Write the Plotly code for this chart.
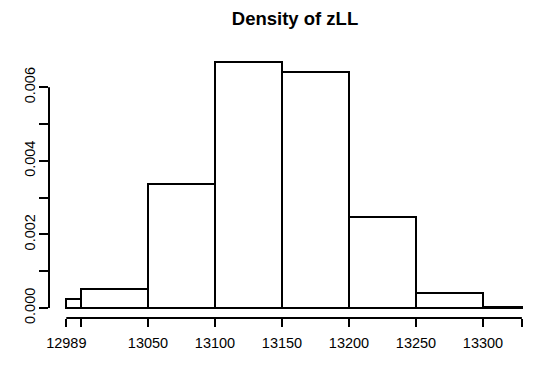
import plotly.graph_objects as go

# Histogram of zLL on the density scale
breaks = [12989, 13000, 13050, 13100, 13150, 13200, 13250, 13300, 13329]
density = [0.00025, 0.00052, 0.00336, 0.00669, 0.00641, 0.00247, 0.00041, 0.00003]

x_tick_labels = ["12989", "", "13050", "13100", "13150", "13200", "13250", "13300", ""]
y_ticks = [0.000, 0.001, 0.002, 0.003, 0.004, 0.005, 0.006]
y_tick_labels = ["0.000", "", "0.002", "", "0.004", "", "0.006"]

lefts = breaks[:-1]
widths = [b - a for a, b in zip(breaks[:-1], breaks[1:])]

x_range = [12976.1, 13338.8]
y_range = [-0.000272, 0.00696]

def px(v):
    return (v - x_range[0]) / (x_range[1] - x_range[0])

def py(v):
    return (v - y_range[0]) / (y_range[1] - y_range[0])

font_family = "Liberation Sans, Arial, Helvetica, sans-serif"

fig = go.Figure(
    go.Bar(
        x=lefts,
        y=density,
        width=widths,
        offset=0,
        marker=dict(color="white", line=dict(color="black", width=2)),
        hoverinfo="skip",
    )
)

# Axis lines that span only the tick range
shapes = [
    dict(type="line", xref="paper", yref="paper",
         x0=px(breaks[0]), x1=px(breaks[-1]), y0=0, y1=0,
         line=dict(color="black", width=2)),
    dict(type="line", xref="paper", yref="paper",
         x0=0, x1=0, y0=py(y_ticks[0]), y1=py(y_ticks[-1]),
         line=dict(color="black", width=2)),
]

fig.update_layout(
    width=535,
    height=391,
    margin=dict(l=49, r=0, t=52, b=73),
    paper_bgcolor="white",
    plot_bgcolor="white",
    showlegend=False,
    bargap=0,
    shapes=shapes,
    font=dict(family=font_family, color="black", size=14),
    title=dict(
        text="<b>Density of zLL</b>",
        x=295 / 535,
        xref="container",
        xanchor="center",
        y=1 - 18.5 / 391,
        yref="container",
        yanchor="middle",
        font=dict(family=font_family, size=18.5, color="black"),
    ),
    xaxis=dict(
        range=x_range,
        tickmode="array",
        tickvals=breaks,
        ticktext=x_tick_labels,
        ticks="outside",
        ticklen=8,
        tickwidth=2,
        tickcolor="black",
        showline=False,
        showgrid=False,
        zeroline=False,
        ticklabelstandoff=4,
        tickfont=dict(size=14.5),
    ),
    yaxis=dict(
        range=y_range,
        tickmode="array",
        tickvals=y_ticks,
        ticktext=y_tick_labels,
        tickangle=-90,
        ticks="outside",
        ticklen=9,
        tickwidth=2,
        tickcolor="black",
        showline=False,
        showgrid=False,
        zeroline=False,
        ticklabelstandoff=-2,
        tickfont=dict(size=14.5),
    ),
)

fig.write_html("out.html")
